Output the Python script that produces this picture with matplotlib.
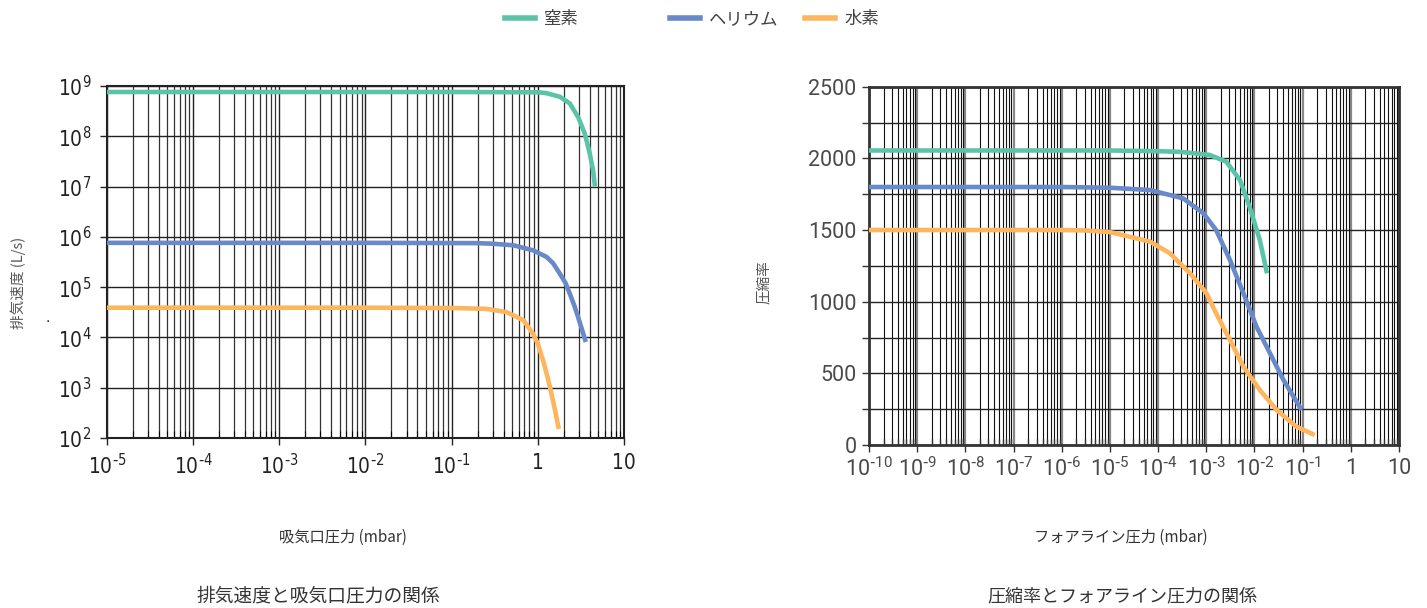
import matplotlib
matplotlib.use('Agg')
import matplotlib.pyplot as plt
from matplotlib.lines import Line2D
from matplotlib.ticker import LogLocator, NullLocator, MultipleLocator, FixedLocator, FixedFormatter

# 排気速度 vs 吸気口圧力 (left)
n2_left_x = [1e-5, 1e-3, 0.1, 1.0, 1.26, 1.8, 2.35, 2.94, 3.5, 4.0, 4.38, 4.6]
n2_left_y = [7.6e8, 7.6e8, 7.6e8, 7.5e8, 7.2e8, 6.1e8, 4.5e8, 2.4e8, 1.14e8, 4.6e7, 2.1e7, 1.0e7]
he_left_x = [1e-5, 1e-2, 0.2, 0.3, 0.52, 0.88, 1.26, 1.5, 1.8, 2.1, 2.35, 2.65, 2.94, 3.25, 3.6]
he_left_y = [7.6e5, 7.6e5, 7.5e5, 7.3e5, 6.8e5, 5.4e5, 4.0e5, 3.0e5, 1.86e5, 1.2e5, 7.4e4, 4.3e4, 2.5e4, 1.45e4, 8.1e3]
h2_left_x = [1e-5, 1e-2, 0.1, 0.25, 0.43, 0.68, 0.88, 1.0, 1.15, 1.3, 1.44, 1.6, 1.75]
h2_left_y = [3.9e4, 3.9e4, 3.85e4, 3.7e4, 3.2e4, 2.2e4, 1.18e4, 7.5e3, 3.5e3, 1.6e3, 755, 330, 151]

# 圧縮率 vs フォアライン圧力 (right)
n2_right_x = [1e-10, 1e-5, 1e-4, 3e-4, 1.17e-3, 2.6e-3, 5.0e-3, 7.9e-3, 1.29e-2, 1.82e-2]
n2_right_y = [2055, 2055, 2050, 2045, 2024, 1977, 1849, 1663, 1431, 1198]
he_right_x = [1e-10, 1e-6, 1e-5, 6.8e-5, 3.3e-4, 8.7e-4, 1.6e-3, 3.1e-3, 5.9e-3, 1.1e-2, 2.1e-2, 4.0e-2, 9.5e-2]
he_right_y = [1800, 1800, 1795, 1779, 1721, 1617, 1500, 1291, 1059, 826, 640, 454, 244]
h2_right_x = [1e-10, 1e-6, 3e-6, 1e-5, 6.8e-5, 1.76e-4, 4.6e-4, 1.01e-3, 1.6e-3, 3.1e-3, 5.9e-3, 1.29e-2, 2.9e-2, 7.4e-2, 0.178]
h2_right_y = [1500, 1500, 1497, 1486, 1419, 1338, 1198, 1059, 919, 733, 546, 384, 244, 128, 70]

gases = ['窒素', 'ヘリウム', '水素']
colors = ['#5bc4a8', '#6a89c9', '#fdb65e']

left_yticks = [1e2, 1e3, 1e4, 1e5, 1e6, 1e7, 1e8, 1e9]
left_ylabels = [r'$\mathregular{10^{%d}}$' % e for e in range(2, 10)]
left_xticks = [1e-5, 1e-4, 1e-3, 1e-2, 1e-1, 1, 10]
left_xlabels = [r'$\mathregular{10^{\text{-}%d}}$' % e for e in range(5, 0, -1)] + ['1', '10']
right_xticks = [10.0 ** e for e in range(-10, 2)]
right_xlabels = [r'$\mathregular{10^{\text{-}%d}}$' % e for e in range(10, 0, -1)] + ['1', '10']

cjk = ['Noto Sans CJK JP', 'DejaVu Sans']
roboto = ['Roboto', 'DejaVu Sans']
lw = 3.3

fig = plt.figure(figsize=(14.27, 6.08), dpi=100)

# ---- left chart
ax1 = fig.add_axes([107 / 1427, 1 - 438 / 608, 517 / 1427, 352 / 608])
ax1.plot(n2_left_x, n2_left_y, color=colors[0], lw=lw, solid_capstyle='butt', zorder=3)
ax1.plot(he_left_x, he_left_y, color=colors[1], lw=lw, solid_capstyle='butt', zorder=3)
ax1.plot(h2_left_x, h2_left_y, color=colors[2], lw=lw, solid_capstyle='butt', zorder=3)
ax1.set_xscale('log')
ax1.set_yscale('log')
ax1.set_xlim(1e-5, 10)
ax1.set_ylim(1e2, 1e9)
ax1.xaxis.set_major_locator(FixedLocator(left_xticks))
ax1.xaxis.set_major_formatter(FixedFormatter(left_xlabels))
ax1.xaxis.set_minor_locator(LogLocator(base=10, subs=range(2, 10), numticks=20))
ax1.yaxis.set_major_locator(FixedLocator(left_yticks))
ax1.yaxis.set_major_formatter(FixedFormatter(left_ylabels))
ax1.yaxis.set_minor_locator(NullLocator())
ax1.grid(which='major', axis='both', color='#222222', lw=1.0)
ax1.grid(which='minor', axis='x', color='#333333', lw=0.9)
ax1.tick_params(which='major', length=5, width=1, color='#222222', pad=6)
ax1.tick_params(which='minor', axis='x', direction='in', length=5, width=0.8)
for lab in ax1.get_xticklabels() + ax1.get_yticklabels():
    lab.set_fontfamily(['DejaVu Sans'])
    lab.set_fontstretch('condensed')
    lab.set_fontsize(15)
    lab.set_color('#222222')
for s in ax1.spines.values():
    s.set_color('#222222')
    s.set_linewidth(1.5)

# ---- right chart
ax2 = fig.add_axes([869 / 1427, 1 - 445 / 608, 530 / 1427, 358.3 / 608])
ax2.plot(n2_right_x, n2_right_y, color=colors[0], lw=lw, solid_capstyle='butt', zorder=3)
ax2.plot(he_right_x, he_right_y, color=colors[1], lw=lw, solid_capstyle='butt', zorder=3)
ax2.plot(h2_right_x, h2_right_y, color=colors[2], lw=lw, solid_capstyle='butt', zorder=3)
ax2.set_xscale('log')
ax2.set_xlim(1e-10, 10)
ax2.set_ylim(0, 2500)
ax2.xaxis.set_major_locator(FixedLocator(right_xticks))
ax2.xaxis.set_major_formatter(FixedFormatter(right_xlabels))
ax2.xaxis.set_minor_locator(LogLocator(base=10, subs=range(2, 10), numticks=40))
ax2.yaxis.set_major_locator(MultipleLocator(500))
ax2.yaxis.set_minor_locator(MultipleLocator(250))
ax2.grid(which='major', axis='x', color='#888888', lw=1.6)
ax2.grid(which='minor', axis='x', color='#111111', lw=0.8)
ax2.grid(which='both', axis='y', color='#222222', lw=1.0)
ax2.tick_params(which='both', length=5, width=1, color='#333333', pad=4)
ax2.tick_params(which='minor', axis='x', direction='in', length=4)
for lab in ax2.get_xticklabels() + ax2.get_yticklabels():
    lab.set_fontfamily(roboto)
    lab.set_fontsize(15.5)
    lab.set_color('#4a4a4a')
for s in ax2.spines.values():
    s.set_color('#333333')
    s.set_linewidth(2)

# ---- text
fig.text(18 / 1427, 1 - 283 / 608, '排気速度 (L/s)', rotation=90, ha='center', va='center',
         fontsize=10.5, family=cjk, color='#555555')
fig.text(48 / 1427, 1 - 318 / 608, '.', ha='center', va='center', fontsize=10, color='#222222')
fig.text(764 / 1427, 1 - 282 / 608, '圧縮率', rotation=90, ha='center', va='center',
         fontsize=10.5, family=cjk, color='#555555')
fig.text(343 / 1427, 1 - 537 / 608, '吸気口圧力 (mbar)', ha='center', va='center',
         fontsize=11, family=cjk, color='#333333')
fig.text(1121 / 1427, 1 - 537 / 608, 'フォアライン圧力 (mbar)', ha='center', va='center',
         fontsize=11, family=cjk, color='#333333')
fig.text(318 / 1427, 1 - 596 / 608, '排気速度と吸気口圧力の関係', ha='center', va='center',
         fontsize=13.5, family=cjk, color='#333333')
fig.text(1122 / 1427, 1 - 596 / 608, '圧縮率とフォアライン圧力の関係', ha='center', va='center',
         fontsize=13, family=cjk, color='#333333')

# legend, one entry per gas so the gaps follow the reference
leg_x = [505, 670, 805]
for name, c, x in zip(gases, colors, leg_x):
    h = Line2D([], [], color=c, lw=4)
    fig.legend(handles=[h], labels=[name], loc='center left', bbox_to_anchor=(x / 1427, 1 - 19 / 608),
               frameon=False, handlelength=1.75, handletextpad=0.5, borderaxespad=0, borderpad=0,
               prop={'family': cjk, 'size': 12.5}, labelcolor='#444444')

fig.savefig('out.png', dpi=100)
